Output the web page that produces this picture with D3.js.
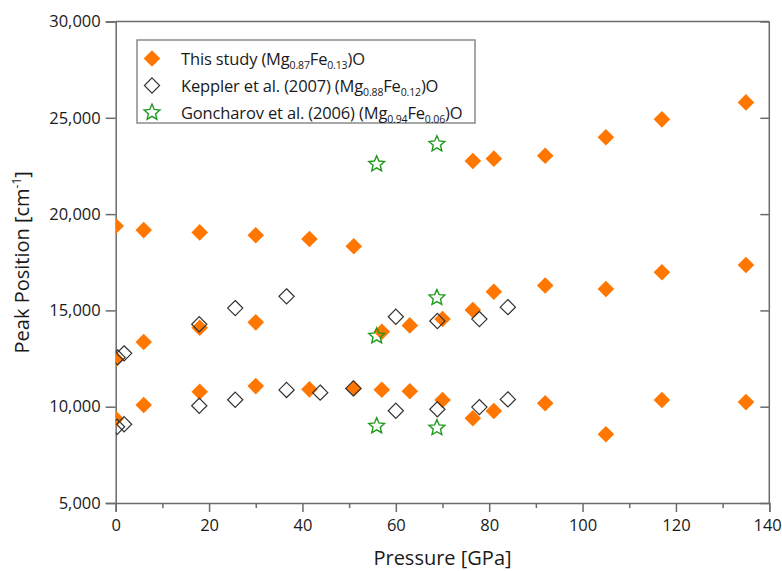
<!DOCTYPE html>
<html>
<head>
<meta charset="utf-8">
<script src="https://cdn.jsdelivr.net/npm/d3@7"></script>
<style>
  html, body { margin: 0; padding: 0; background: #fff; }
  svg { display: block; font-family: "Open Sans", "Noto Sans", sans-serif; }
</style>
</head>
<body>
<svg id="chart" width="782" height="571"></svg>
<script>
// ---- Data ----
const thisStudyPressure = [0, 6, 18, 30, 41.5, 51, 76.5, 81, 92, 105, 117, 135,
                           0, 6, 18, 30, 57, 63, 70, 76.5, 81, 92, 105, 117, 135,
                           0, 6, 18, 30, 41.5, 51, 57, 63, 70, 76.5, 81, 92, 105, 117, 135];
const thisStudyPeak = [19380, 19170, 19050, 18900, 18710, 18330, 22760, 22880, 23030, 23990, 24920, 25800,
                       12480, 13360, 14100, 14380, 13890, 14220, 14550, 15020, 15970, 16290, 16110, 16980, 17360,
                       9370, 10090, 10780, 11070, 10900, 10950, 10880, 10800, 10350, 9400, 9780, 10180, 8570, 10350, 10240];

const kepplerPressure = [0.4, 1.8, 17.9, 25.6, 36.6, 60.0, 68.9, 77.9, 84.0,
                         0.3, 1.8, 17.9, 25.6, 36.6, 43.8, 50.9, 60.0, 68.9, 77.9, 84.0];
const kepplerPeak = [12560, 12770, 14280, 15120, 15730, 14670, 14450, 14550, 15170,
                     8960, 9090, 10050, 10360, 10870, 10730, 10950, 9790, 9870, 9980, 10380];

const goncharovPressure = [55.9, 68.8, 55.9, 68.8, 55.9, 68.8];
const goncharovPeak = [22650, 23690, 13720, 15710, 9050, 8950];

const xTicks = [0, 20, 40, 60, 80, 100, 120, 140];
const xMinorTicks = [10, 30, 50, 70, 90, 110, 130];
const yTicks = [5000, 10000, 15000, 20000, 25000, 30000];

const xTitle = "Pressure [GPa]";
const yTitle = "Peak Position [cm";

// ---- Layout ----
const svg = d3.select("#chart");
const pLeft = 115.7, pRight = 769.3, pTop = 21.5, pBottom = 503;
const axisColor = "#6b6b6b";
const orange = "#ff7700";
const green = "#1f9a1f";

const x = d3.scaleLinear().domain([0, 140]).range([pLeft, pRight]);
const y = d3.scaleLinear().domain([5000, 30000]).range([pBottom, pTop]);

svg.append("defs").append("clipPath").attr("id", "plotclip")
  .append("rect").attr("x", pLeft).attr("y", pTop)
  .attr("width", pRight - pLeft).attr("height", pBottom - pTop);

// frame (top & right lines)
svg.append("line").attr("x1", pLeft).attr("x2", pRight).attr("y1", pTop).attr("y2", pTop)
  .attr("stroke", axisColor).attr("stroke-width", 1.5);
svg.append("line").attr("x1", pRight).attr("x2", pRight).attr("y1", pTop).attr("y2", pBottom)
  .attr("stroke", axisColor).attr("stroke-width", 1.5);

// bottom axis
const xAxisG = svg.append("g").attr("transform", `translate(0,${pBottom})`)
  .call(d3.axisBottom(x).tickValues(xTicks).tickSize(9).tickPadding(7).tickFormat(d3.format("d")));
svg.append("g").attr("transform", `translate(0,${pBottom})`)
  .call(d3.axisBottom(x).tickValues(xMinorTicks).tickSize(5).tickFormat(""))
  .call(g => g.select(".domain").remove());

// left axis
svg.append("g").attr("transform", `translate(${pLeft},0)`)
  .call(d3.axisLeft(y).tickValues(yTicks).tickSize(10).tickPadding(5).tickFormat(d3.format(",")));

// right axis inner ticks
svg.append("g").attr("transform", `translate(${pRight},0)`)
  .call(d3.axisLeft(y).tickValues(yTicks).tickSize(9).tickFormat(""))
  .call(g => g.select(".domain").remove());

svg.selectAll(".domain").attr("stroke", axisColor).attr("stroke-width", 1.5);
svg.selectAll(".tick line").attr("stroke", axisColor).attr("stroke-width", 1.5);
svg.selectAll(".tick text").attr("font-family", "\"Open Sans\", sans-serif")
  .attr("font-size", 16.5).attr("fill", "#1a1a1a");
// keep the last x label inside the window
xAxisG.selectAll(".tick text").filter(d => d === 140).attr("text-anchor", "end").attr("dx", 12);

// axis titles
svg.append("text").attr("x", (pLeft + pRight) / 2).attr("y", 565)
  .attr("text-anchor", "middle").attr("font-size", 20).attr("fill", "#1a1a1a").text(xTitle);
const yt = svg.append("text").attr("transform", `translate(29,${(pTop + pBottom) / 2}) rotate(-90)`)
  .attr("text-anchor", "middle").attr("font-size", 20).attr("fill", "#1a1a1a");
yt.append("tspan").text(yTitle);
yt.append("tspan").attr("font-size", 12).attr("dy", -8).text("-1");
yt.append("tspan").attr("dy", 8).text("]");

// symbols
const diamondType = {
  draw(ctx, size) {
    const r = Math.sqrt(size / 2);
    ctx.moveTo(0, -r); ctx.lineTo(r, 0); ctx.lineTo(0, r); ctx.lineTo(-r, 0); ctx.closePath();
  }
};
const starType = {
  draw(ctx, size) {
    const R = Math.sqrt(size), ri = R * 0.46;
    for (let i = 0; i < 10; i++) {
      const rr = i % 2 === 0 ? R : ri;
      const a = -Math.PI / 2 + i * Math.PI / 5;
      const px = rr * Math.cos(a), py = rr * Math.sin(a);
      if (i === 0) ctx.moveTo(px, py); else ctx.lineTo(px, py);
    }
    ctx.closePath();
  }
};
const filledDiamond = d3.symbol().type(diamondType).size(2 * 8.3 * 8.3)();
const openDiamond = d3.symbol().type(diamondType).size(2 * 7.6 * 7.6)();
const star = d3.symbol().type(starType).size(8.3 * 8.3)();

const plot = svg.append("g").attr("clip-path", "url(#plotclip)");

plot.selectAll("path.study").data(d3.range(thisStudyPressure.length)).join("path")
  .attr("class", "study").attr("d", filledDiamond)
  .attr("transform", i => `translate(${x(thisStudyPressure[i])},${y(thisStudyPeak[i])})`)
  .attr("fill", orange);

plot.selectAll("path.keppler").data(d3.range(kepplerPressure.length)).join("path")
  .attr("class", "keppler").attr("d", openDiamond)
  .attr("transform", i => `translate(${x(kepplerPressure[i])},${y(kepplerPeak[i])})`)
  .attr("fill", "none").attr("stroke", "#333").attr("stroke-width", 1.2);

plot.selectAll("path.gonch").data(d3.range(goncharovPressure.length)).join("path")
  .attr("class", "gonch").attr("d", star)
  .attr("transform", i => `translate(${x(goncharovPressure[i])},${y(goncharovPeak[i]) + 1})`)
  .attr("fill", "none").attr("stroke", green).attr("stroke-width", 1.4);

// legend
const lg = svg.append("g");
lg.append("rect").attr("x", 137).attr("y", 40).attr("width", 338).attr("height", 83)
  .attr("fill", "#fff").attr("stroke", "#8a8a8a").attr("stroke-width", 1.5);
const legendRows = [
  { sym: filledDiamond, fill: orange, stroke: "none", parts: ["This study (Mg", "0.87", "Fe", "0.13", ")O"] },
  { sym: openDiamond, fill: "none", stroke: "#333", parts: ["Keppler et al. (2007) (Mg", "0.88", "Fe", "0.12", ")O"] },
  { sym: star, fill: "none", stroke: green, parts: ["Goncharov et al. (2006) (Mg", "0.94", "Fe", "0.06", ")O"] }
];
legendRows.forEach((r, i) => {
  const cy = 58.5 + i * 27;
  lg.append("path").attr("d", r.sym).attr("transform", `translate(152,${cy})`)
    .attr("fill", r.fill).attr("stroke", r.stroke).attr("stroke-width", r.stroke === green ? 1.4 : 1.2);
  const t = lg.append("text").attr("x", 181).attr("y", cy + 6).attr("font-size", 16.5)
    .attr("letter-spacing", -0.15).attr("fill", "#1a1a1a");
  r.parts.forEach((p, k) => {
    const ts = t.append("tspan").text(p);
    if (k === 1 || k === 3) ts.attr("font-size", 10.5).attr("dy", 4);
    else if (k === 2 || k === 4) ts.attr("dy", -4);
  });
});
</script>
</body>
</html>
